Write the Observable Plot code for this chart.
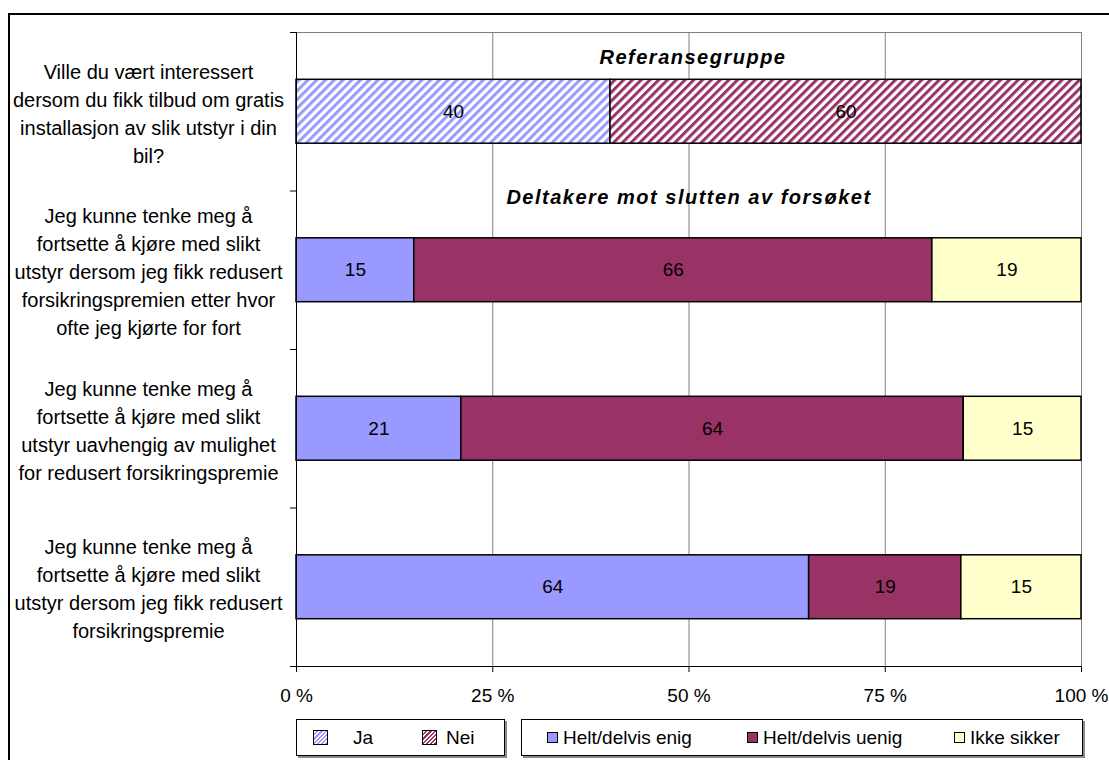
<!DOCTYPE html>
<html>
<head>
<meta charset="utf-8">
<script src="https://cdn.jsdelivr.net/npm/d3@7"></script>
<script src="https://cdn.jsdelivr.net/npm/@observablehq/plot@0.6"></script>
<style>
  body { margin: 0; width: 1109px; height: 760px; overflow: hidden; position: relative; background: #fff;
         font-family: "Liberation Sans", Arial, sans-serif; color: #000; }
  #frame { position: absolute; left: 8px; top: 13px; width: 1200px; height: 800px;
           border-left: 2px solid #000; border-top: 2px solid #000; pointer-events: none; }
  #chart { position: absolute; left: 0; top: 0; }
  #chart svg { overflow: visible; }
  #chart g[font-style="italic"] text { letter-spacing: 1.5px; }
  .legend { position: absolute; top: 719px; height: 37px; box-sizing: border-box; background: #fff;
            border: 1.5px solid #000; box-shadow: 2px 2px 0 #8a8a8a; }
  .item { position: absolute; top: 0; height: 100%; display: flex; align-items: center; font-size: 19px; white-space: nowrap; }
  .sw { display: inline-block; box-sizing: border-box; border: 1px solid #000; }
</style>
</head>
<body>
<div id="chart"></div>
<div id="frame"></div>
<div id="legend-ref" class="legend" style="left:296px;width:209px"></div>
<div id="legend-part" class="legend" style="left:521px;width:562px"></div>
<script>
// Survey questions (one row each, top to bottom)
const questions = [
  "Ville du vært interessert\ndersom du fikk tilbud om gratis\ninstallasjon av slik utstyr i din\nbil?",
  "Jeg kunne tenke meg å\nfortsette å kjøre med slikt\nutstyr dersom jeg fikk redusert\nforsikringspremien etter hvor\nofte jeg kjørte for fort",
  "Jeg kunne tenke meg å\nfortsette å kjøre med slikt\nutstyr uavhengig av mulighet\nfor redusert forsikringspremie",
  "Jeg kunne tenke meg å\nfortsette å kjøre med slikt\nutstyr dersom jeg fikk redusert\nforsikringspremie"
];

// Reference group answers (first row)
const referenceCategories = ["Ja", "Nei"];
const referenceValues = [40, 60];

// Participants near the end of the trial (rows 2-4)
const participantCategories = ["Helt/delvis enig", "Helt/delvis uenig", "Ikke sikker"];
const participantValues = [
  [15, 66, 19],
  [21, 64, 15],
  [64, 19, 15]
];

const groupHeadings = ["Referansegruppe", "Deltakere mot slutten av forsøket"];

const xTicks = [0, 0.25, 0.5, 0.75, 1];
const xTickLabels = ["0 %", "25 %", "50 %", "75 %", "100 %"];

const allCategories = [...referenceCategories, ...participantCategories];
const categoryFills = ["url(#hatch-ja)", "url(#hatch-nei)", "#9999ff", "#993366", "#ffffcc"];

// Long table: one record per bar segment
const bars = [];
referenceCategories.forEach((cat, j) => bars.push({row: 0, cat, value: referenceValues[j]}));
participantValues.forEach((vals, i) =>
  participantCategories.forEach((cat, j) => bars.push({row: i + 1, cat, value: vals[j]}))
);

const rowBoundaries = d3.range(questions.length + 1);
const font = "'Liberation Sans', Arial, sans-serif";
const headingStyle = {text: d => d, fontSize: 20, fontWeight: "bold", fontStyle: "italic", fill: "#000", lineAnchor: "middle", frameAnchor: "top"};

const chart = Plot.plot({
  width: 1109,
  height: 712,
  marginLeft: 296,
  marginRight: 28,
  marginTop: 32,
  marginBottom: 46,
  style: {fontFamily: font, fontSize: "19px", color: "#000", background: "transparent"},
  x: {domain: [0, 1], axis: null, label: null},
  y: {domain: [0, questions.length], reverse: true, axis: null, label: null},
  color: {domain: allCategories, range: categoryFills},
  marks: [
    // gridlines and plot-area border
    Plot.ruleX(xTicks.slice(1, -1), {stroke: "#808080", strokeWidth: 1}),
    Plot.ruleX([1], {stroke: "#808080", strokeWidth: 1}),
    Plot.ruleY([0], {stroke: "#808080", strokeWidth: 1}),
    // stacked, normalized bars
    Plot.rectX(bars, {
      x: "value",
      y: "row",
      interval: 1,
      offset: "normalize",
      fill: "cat",
      stroke: "#000",
      strokeWidth: 1.5,
      insetTop: 47.3,
      insetBottom: 47.3
    }),
    // segment value labels
    Plot.text(bars, Plot.stackX({
      x: "value",
      y: d => d.row + 0.5,
      offset: "normalize",
      text: d => String(d.value),
      fontSize: 19,
      fill: "#000"
    })),
    // group headings
    Plot.text([groupHeadings[0]], {...headingStyle, dx: 4, dy: 25}),
    Plot.text([groupHeadings[1]], {...headingStyle, dy: 165}),
    // question labels on the left
    Plot.text(questions, {
      y: (d, i) => i + 0.5,
      text: d => d,
      frameAnchor: "left",
      dx: -148,
      textAnchor: "middle",
      lineHeight: 1.4,
      fontSize: 20,
      fill: "#000"
    }),
    // axes
    Plot.ruleX([0], {stroke: "#000", strokeWidth: 1}),
    Plot.ruleY([questions.length], {stroke: "#000", strokeWidth: 1}),
    Plot.axisY({ticks: rowBoundaries, tickSize: 6, tickFormat: () => "", label: null, stroke: "#000"}),
    Plot.axisX({
      ticks: xTicks,
      tickFormat: d => xTickLabels[xTicks.indexOf(d)],
      tickSize: 6,
      tickPadding: 16,
      fontSize: 19,
      label: null,
      anchor: "bottom",
      stroke: "#000"
    })
  ]
});

// diagonal hatch fills for the reference group
const defs = d3.select(chart).insert("defs", ":first-child");
[["hatch-ja", "#9999ff"], ["hatch-nei", "#993366"]].forEach(([id, c]) => {
  const p = defs.append("pattern")
    .attr("id", id)
    .attr("patternUnits", "userSpaceOnUse")
    .attr("width", 6.2).attr("height", 6.2)
    .attr("patternTransform", "rotate(45)");
  p.append("rect").attr("width", 6.2).attr("height", 6.2).attr("fill", "#fff");
  p.append("rect").attr("width", 3).attr("height", 6.2).attr("fill", c);
});

document.getElementById("chart").appendChild(chart);

// legends
function addItem(box, left, swatchStyle, size, label, gap) {
  const item = document.createElement("div");
  item.className = "item";
  item.style.left = left + "px";
  const sw = document.createElement("span");
  sw.className = "sw";
  sw.style.width = size + "px";
  sw.style.height = size + "px";
  sw.style.background = swatchStyle;
  sw.style.marginRight = gap + "px";
  const t = document.createElement("span");
  t.textContent = label;
  item.append(sw, t);
  box.appendChild(item);
}
const hatchCss = c => `repeating-linear-gradient(-45deg, ${c} 0 1.5px, #fff 1.5px 3px)`;
const refBox = document.getElementById("legend-ref");
addItem(refBox, 16, hatchCss("#9999ff"), 15, referenceCategories[0], 25);
addItem(refBox, 125, hatchCss("#993366"), 15, referenceCategories[1], 9);
const partBox = document.getElementById("legend-part");
addItem(partBox, 25, categoryFills[2], 11, participantCategories[0], 5);
addItem(partBox, 225, categoryFills[3], 11, participantCategories[1], 5);
addItem(partBox, 432, categoryFills[4], 11, participantCategories[2], 5);
</script>
</body>
</html>
